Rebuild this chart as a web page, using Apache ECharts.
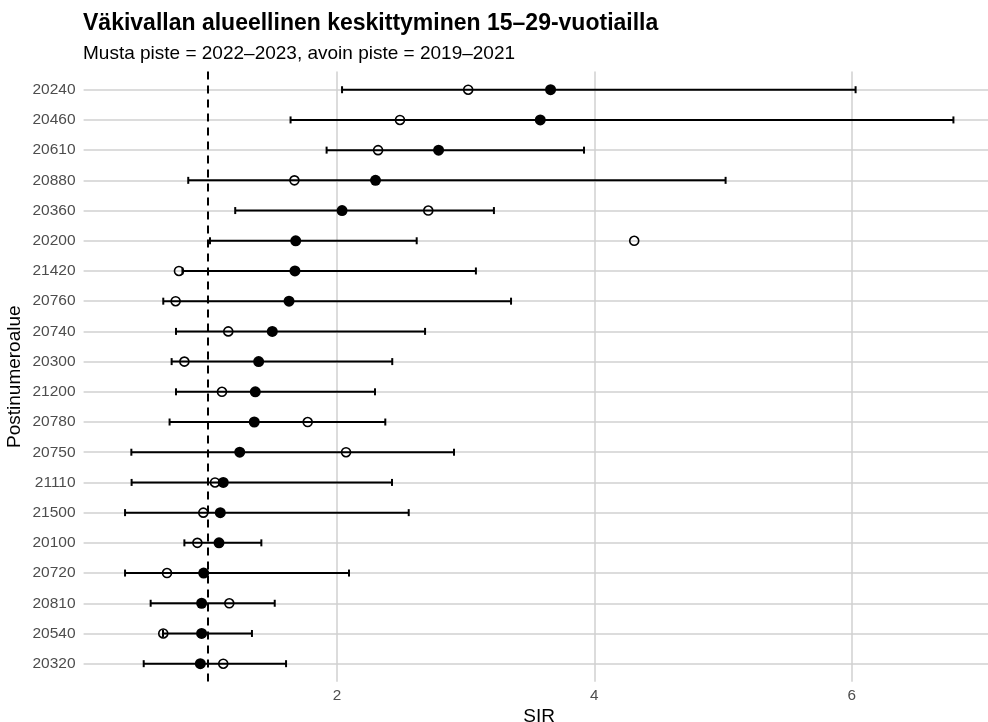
<!DOCTYPE html>
<html>
<head>
<meta charset="utf-8">
<script src="https://cdn.jsdelivr.net/npm/echarts@6/dist/echarts.min.js"></script>
<style>
html,body{margin:0;padding:0;background:#fff;}
#chart{width:988px;height:722px;}
</style>
</head>
<body>
<div id="chart"></div>
<script>
// Postal code areas (top to bottom)
const categories = ['20240','20460','20610','20880','20360','20200','21420','20760','20740','20300','21200','20780','20750','21110','21500','20100','20720','20810','20540','20320'];
// SIR 2022–2023 (filled point) with confidence interval
const sir2223   = [3.66, 3.58, 2.79, 2.30, 2.04, 1.68, 1.674, 1.628, 1.498, 1.392, 1.366, 1.358, 1.245, 1.117, 1.094, 1.084, 0.965, 0.949, 0.949, 0.939];
const lower2223 = [2.04, 1.64, 1.92, 0.845, 1.21, 1.014, 0.80, 0.651, 0.75, 0.716, 0.75, 0.70, 0.403, 0.405, 0.354, 0.815, 0.354, 0.553, 0.649, 0.499];
const upper2223 = [6.03, 6.79, 3.92, 5.02, 3.22, 2.62, 3.08, 3.353, 2.685, 2.43, 2.296, 2.376, 2.91, 2.428, 2.558, 1.413, 2.094, 1.517, 1.34, 1.605];
// SIR 2019–2021 (open point)
const sir1921   = [3.02, 2.49, 2.32, 1.67, 2.71, 4.31, 0.773, 0.747, 1.156, 0.815, 1.107, 1.773, 2.071, 1.053, 0.962, 0.916, 0.68, 1.164, 0.651, 1.117];
// Reference line and x tick labels
const refLine = 1;
const xTicks = [2, 4, 6];

const FONT = '"Liberation Sans", Arial, Helvetica, sans-serif';
const rowIdx = categories.map((c, i) => i);

const chart = echarts.init(document.getElementById('chart'), null, {renderer: 'canvas'});
const option = {
  animation: false,
  backgroundColor: '#ffffff',
  title: [
    {text: 'Väkivallan alueellinen keskittyminen 15–29-vuotiailla', left: 83, top: 12, padding: 0,
     textStyle: {fontFamily: FONT, fontSize: 23, fontWeight: 'bold', color: '#000'}},
    {text: 'Musta piste = 2022–2023, avoin piste = 2019–2021', left: 83, top: 44, padding: 0,
     textStyle: {fontFamily: FONT, fontSize: 19, fontWeight: 'normal', color: '#000'}}
  ],
  grid: {left: 83.6, top: 71.6, width: 911, height: 610.2, outerBoundsMode: 'none', containLabel: false},
  xAxis: {
    type: 'value', min: 0.032, max: 7.11,
    axisLine: {show: false},
    axisTick: {show: false, customValues: xTicks},
    axisLabel: {customValues: xTicks, color: '#4d4d4d', fontSize: 15.3, fontFamily: FONT, margin: 6},
    splitLine: {show: true, lineStyle: {color: '#d0d0d0', width: 1.5}},
    name: 'SIR', nameLocation: 'middle', nameGap: 16,
    nameTextStyle: {fontFamily: FONT, fontSize: 19, color: '#000'}
  },
  yAxis: {
    type: 'value', inverse: true, min: -0.6, max: 19.6,
    axisLine: {show: false},
    axisTick: {show: false, customValues: rowIdx},
    axisLabel: {customValues: rowIdx, formatter: v => categories[Math.round(v)] || '',
                color: '#4d4d4d', fontSize: 15.5, fontFamily: FONT, margin: 8},
    splitLine: {show: true, lineStyle: {color: '#d0d0d0', width: 1.5}},
    name: 'Postinumeroalue', nameLocation: 'middle', nameGap: 59, nameRotate: 90,
    nameMoveOverlap: false,
    nameTextStyle: {fontFamily: FONT, fontSize: 19, color: '#000'}
  },
  series: [
    {
      type: 'custom',
      name: 'CI',
      encode: {x: [0, 1], y: 2},
      data: categories.map((c, i) => [lower2223[i], upper2223[i], i]),
      renderItem: function (params, api) {
        const y = api.value(2);
        const p1 = api.coord([api.value(0), y]);
        const p2 = api.coord([api.value(1), y]);
        const h = 3.5;
        const st = {stroke: '#000', lineWidth: 2};
        return {
          type: 'group',
          children: [
            {type: 'line', shape: {x1: p1[0], y1: p1[1], x2: p2[0], y2: p2[1]}, style: st},
            {type: 'line', shape: {x1: p1[0], y1: p1[1] - h, x2: p1[0], y2: p1[1] + h}, style: st},
            {type: 'line', shape: {x1: p2[0], y1: p2[1] - h, x2: p2[0], y2: p2[1] + h}, style: st}
          ]
        };
      },
      markLine: {
        silent: true, symbol: 'none', label: {show: false},
        lineStyle: {color: '#000', type: [8, 6], width: 2},
        data: [{xAxis: refLine}]
      },
      z: 2
    },
    {
      type: 'scatter', name: '2019–2021',
      data: sir1921.map((v, i) => [v, i]),
      symbol: 'circle', symbolSize: 9,
      itemStyle: {color: 'rgba(0,0,0,0)', borderColor: '#000', borderWidth: 1.6, opacity: 1},
      z: 3
    },
    {
      type: 'scatter', name: '2022–2023',
      data: sir2223.map((v, i) => [v, i]),
      symbol: 'circle', symbolSize: 11,
      itemStyle: {color: '#000', opacity: 1},
      z: 4
    }
  ]
};
chart.setOption(option);
</script>
</body>
</html>
